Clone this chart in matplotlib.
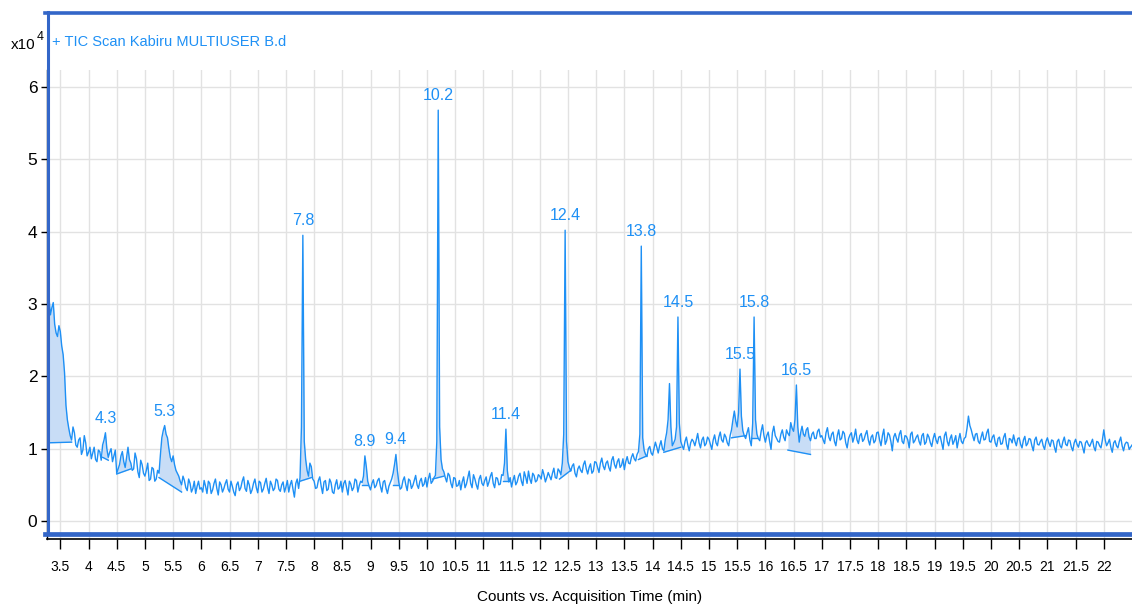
import numpy as np
import matplotlib
matplotlib.use("Agg")
import matplotlib.pyplot as plt
from matplotlib.lines import Line2D

plt.rcParams['font.family'] = ['Liberation Sans', 'DejaVu Sans']

# TIC trace, counts x10^4. tic_a: scans at 3.25, 3.30, ... ; tic_b: scans at 3.275, 3.325, ...
t_start = 3.25
t_step = 0.025
tic_a = [
    # 3.25 - 3.95
    2.80, 3.08, 2.95, 2.72, 2.55, 2.62, 2.30, 1.60, 1.28, 1.12, 1.22, 1.02, 1.15, 0.98, 1.08,
    # 4.00 - 4.95
    0.95, 0.86, 1.02, 0.82, 0.96, 1.05, 1.22, 0.88, 1.00, 0.90, 0.66, 0.78, 0.96, 0.74, 1.02, 0.80, 0.72, 0.86, 0.60, 0.78,
    # 5.00 - 5.95
    0.62, 0.80, 0.58, 0.72, 0.58, 0.66, 1.15, 1.32, 1.15, 0.88, 0.90, 0.70, 0.62, 0.50, 0.56, 0.42, 0.52, 0.45, 0.38, 0.55,
    # 6.00 - 6.95
    0.46, 0.56, 0.38, 0.52, 0.43, 0.58, 0.36, 0.50, 0.45, 0.57, 0.40, 0.48, 0.35, 0.54, 0.46, 0.61, 0.41, 0.50, 0.43, 0.58,
    # 7.00 - 7.95
    0.39, 0.53, 0.44, 0.59, 0.38, 0.50, 0.45, 0.56, 0.41, 0.54, 0.47, 0.40, 0.56, 0.33, 0.58, 0.60, 3.95, 0.85, 0.62, 0.75,
    # 8.00 - 8.95
    0.55, 0.46, 0.61, 0.38, 0.56, 0.44, 0.53, 0.38, 0.57, 0.46, 0.40, 0.56, 0.36, 0.51, 0.46, 0.56, 0.49, 0.53, 0.90, 0.55,
    # 9.00 - 9.95
    0.43, 0.57, 0.49, 0.59, 0.40, 0.56, 0.38, 0.53, 0.66, 0.92, 0.54, 0.46, 0.61, 0.42, 0.56, 0.49, 0.63, 0.45, 0.59, 0.51,
    # 10.00 - 10.95
    0.47, 0.66, 0.55, 0.63, 5.68, 0.85, 0.68, 0.54, 0.63, 0.46, 0.59, 0.49, 0.43, 0.61, 0.51, 0.69, 0.46, 0.58, 0.44, 0.63,
    # 11.00 - 11.95
    0.49, 0.61, 0.54, 0.67, 0.46, 0.59, 0.51, 0.63, 1.27, 0.54, 0.47, 0.63, 0.54, 0.66, 0.49, 0.61, 0.69, 0.52, 0.63, 0.56,
    # 12.00 - 12.95
    0.62, 0.71, 0.54, 0.67, 0.57, 0.73, 0.59, 0.69, 0.80, 4.02, 0.82, 0.69, 0.79, 0.61, 0.76, 0.67, 0.83, 0.65, 0.79, 0.69,
    # 13.00 - 13.95
    0.81, 0.67, 0.87, 0.71, 0.83, 0.69, 0.89, 0.73, 0.86, 0.77, 0.71, 0.89, 0.79, 0.93, 0.83, 0.96, 3.80, 0.98, 0.89, 1.03,
    # 14.00 - 14.95
    0.91, 1.09, 0.94, 1.11, 0.97, 1.22, 1.90, 1.04, 1.13, 2.82, 1.10, 0.99, 1.16, 0.97, 1.13, 1.04, 1.21, 1.01, 1.16, 1.07,
    # 15.00 - 15.95
    1.13, 0.99, 1.19, 1.04, 1.23, 1.09, 1.16, 1.04, 1.26, 1.52, 1.30, 2.10, 1.25, 1.14, 1.29, 1.04, 2.82, 1.20, 1.11, 1.33,
    # 16.00 - 16.95
    1.09, 1.23, 0.99, 1.31, 1.14, 1.09, 1.26, 1.11, 1.21, 1.36, 1.24, 1.88, 1.09, 1.31, 1.17, 1.29, 1.11, 1.23, 1.14, 1.27,
    # 17.00 - 17.95
    1.18, 1.07, 1.29, 1.11, 1.23, 1.04, 1.26, 1.14, 1.21, 1.01, 1.19, 1.09, 1.27, 1.07, 1.21, 1.13, 1.25, 1.05, 1.19, 1.11,
    # 18.00 - 18.95
    1.23, 1.04, 1.27, 1.11, 1.19, 0.97, 1.21, 1.09, 1.25, 1.07, 1.17, 1.01, 1.23, 1.11, 1.19, 1.05, 1.21, 1.09, 1.16, 1.03,
    # 19.00 - 19.95
    1.21, 1.07, 1.17, 0.99, 1.23, 1.04, 1.19, 1.11, 1.01, 1.21, 1.07, 1.16, 1.45, 1.26, 1.11, 1.21, 1.07, 1.23, 1.13, 1.27,
    # 20.00 - 20.95
    1.09, 1.19, 1.03, 1.16, 1.07, 1.21, 0.99, 1.13, 1.19, 1.04, 1.15, 1.01, 1.17, 1.07, 1.13, 0.97, 1.16, 1.05, 1.13, 0.99,
    # 21.00 - 21.95
    1.15, 1.03, 1.11, 0.95, 1.13, 1.01, 1.16, 1.04, 1.11, 0.97, 1.13, 1.02, 1.09, 0.94, 1.11, 1.03, 1.13, 0.97, 1.09, 1.01,
    # 22.00 - 22.50
    1.26, 1.04, 1.13, 0.95, 1.11, 1.01, 1.16, 0.97, 1.09, 0.99, 1.05,
]
tic_b = [
    # 3.275 - 3.975
    2.95, 2.85, 3.02, 2.60, 2.70, 2.42, 2.05, 1.40, 1.18, 1.30, 1.05, 1.12, 0.92, 1.18, 0.90,
    # 4.025 - 4.975
    1.02, 0.94, 0.85, 0.98, 0.84, 1.12, 1.00, 0.95, 0.82, 0.98, 0.72, 0.90, 0.82, 0.88, 0.85, 0.70, 0.94, 0.68, 0.84, 0.66,
    # 5.025 - 5.975
    0.70, 0.56, 0.74, 0.55, 0.70, 0.92, 1.25, 1.20, 1.00, 0.82, 0.78, 0.66, 0.55, 0.62, 0.46, 0.58, 0.40, 0.55, 0.48, 0.44,
    # 6.025 - 6.975
    0.40, 0.48, 0.55, 0.38, 0.52, 0.45, 0.54, 0.40, 0.52, 0.44, 0.55, 0.40, 0.50, 0.42, 0.55, 0.45, 0.56, 0.38, 0.52, 0.46,
    # 7.025 - 7.975
    0.55, 0.40, 0.52, 0.46, 0.55, 0.42, 0.58, 0.44, 0.50, 0.40, 0.56, 0.50, 0.44, 0.52, 0.45, 1.30, 1.10, 0.70, 0.80, 0.58,
    # 8.025 - 8.975
    0.45, 0.56, 0.48, 0.54, 0.42, 0.58, 0.40, 0.50, 0.44, 0.55, 0.52, 0.46, 0.55, 0.42, 0.58, 0.40, 0.55, 0.62, 0.75, 0.48,
    # 9.025 - 9.975
    0.52, 0.46, 0.56, 0.48, 0.54, 0.45, 0.48, 0.58, 0.78, 0.70, 0.44, 0.56, 0.50, 0.58, 0.45, 0.56, 0.50, 0.55, 0.48, 0.60,
    # 10.025 - 10.975
    0.58, 0.52, 0.60, 1.10, 1.30, 0.72, 0.60, 0.66, 0.52, 0.60, 0.48, 0.56, 0.54, 0.46, 0.60, 0.52, 0.64, 0.50, 0.58, 0.52,
    # 11.025 - 11.975
    0.56, 0.48, 0.62, 0.52, 0.60, 0.50, 0.64, 0.80, 0.70, 0.60, 0.56, 0.50, 0.62, 0.55, 0.68, 0.52, 0.58, 0.66, 0.54, 0.64,
    # 12.025 - 12.975
    0.58, 0.64, 0.60, 0.62, 0.66, 0.60, 0.72, 0.64, 1.20, 1.10, 0.74, 0.76, 0.66, 0.72, 0.70, 0.78, 0.72, 0.74, 0.66, 0.82,
    # 13.025 - 13.975
    0.74, 0.80, 0.76, 0.80, 0.74, 0.84, 0.78, 0.82, 0.74, 0.86, 0.82, 0.80, 0.88, 0.86, 0.92, 1.20, 1.15, 0.92, 1.00, 0.94,
    # 14.025 - 14.975
    1.00, 1.02, 1.04, 1.00, 1.12, 1.40, 1.30, 1.08, 1.30, 1.35, 1.04, 1.10, 1.05, 1.08, 1.10, 1.12, 1.08, 1.12, 1.04, 1.16,
    # 15.025 - 15.975
    1.06, 1.12, 1.08, 1.16, 1.12, 1.20, 1.08, 1.18, 1.40, 1.38, 1.50, 1.45, 1.18, 1.22, 1.12, 1.35, 1.40, 1.14, 1.24, 1.18,
    # 16.025 - 16.975
    1.18, 1.10, 1.22, 1.18, 1.10, 1.20, 1.16, 1.26, 1.18, 1.28, 1.40, 1.30, 1.22, 1.20, 1.26, 1.16, 1.20, 1.14, 1.24, 1.16,
    # 17.025 - 17.975
    1.12, 1.22, 1.16, 1.20, 1.10, 1.18, 1.12, 1.24, 1.08, 1.14, 1.22, 1.16, 1.12, 1.18, 1.10, 1.20, 1.12, 1.16, 1.08, 1.22,
    # 18.025 - 18.975
    1.12, 1.18, 1.06, 1.22, 1.10, 1.16, 1.14, 1.20, 1.10, 1.18, 1.12, 1.20, 1.08, 1.16, 1.10, 1.18, 1.06, 1.20, 1.08, 1.14,
    # 19.025 - 19.975
    1.12, 1.16, 1.08, 1.18, 1.10, 1.14, 1.06, 1.18, 1.12, 1.10, 1.14, 1.28, 1.32, 1.18, 1.20, 1.10, 1.16, 1.12, 1.22, 1.10,
    # 20.025 - 20.975
    1.16, 1.08, 1.14, 1.06, 1.16, 1.06, 1.14, 1.08, 1.10, 1.14, 1.06, 1.12, 1.04, 1.14, 1.04, 1.12, 1.06, 1.10, 1.04, 1.10,
    # 21.025 - 21.975
    1.08, 1.12, 1.02, 1.10, 1.04, 1.10, 1.06, 1.12, 1.02, 1.08, 1.06, 1.10, 1.02, 1.08, 1.06, 1.08, 1.02, 1.10, 1.04, 1.12,
    # 22.025 - 22.475
    1.12, 1.08, 1.02, 1.08, 1.04, 1.10, 1.04, 1.06, 1.08, 1.02,
]

# integrated peak windows: start, end, baseline at start, baseline at end
win_t0 = [3.25, 4.25, 4.50, 5.25, 7.75, 8.85, 9.40, 10.10, 11.35, 12.35, 13.75, 14.20, 15.40, 15.75, 16.40]
win_t1 = [3.70, 4.35, 4.75, 5.65, 7.95, 8.95, 9.50, 10.30, 11.45, 12.55, 13.90, 14.50, 15.65, 15.85, 16.80]
win_b0 = [1.08, 0.88, 0.65, 0.60, 0.55, 0.50, 0.50, 0.58, 0.55, 0.58, 0.85, 0.95, 1.15, 1.15, 0.98]
win_b1 = [1.09, 0.84, 0.72, 0.40, 0.60, 0.50, 0.50, 0.62, 0.55, 0.70, 0.90, 1.02, 1.18, 1.15, 0.92]

# peak labels
peak_labels = ["4.3", "5.3", "7.8", "8.9", "9.4", "10.2", "11.4", "12.4", "13.8", "14.5", "15.5", "15.8", "16.5"]
peak_rt = [4.30, 5.35, 7.80, 8.90, 9.45, 10.20, 11.40, 12.45, 13.80, 14.45, 15.55, 15.80, 16.55]

x_ticks = [3.5 + 0.5 * i for i in range(38)]

LINE = '#1e90f5'
FILL = '#c8ddf6'
FRAME = '#3366c8'

W, H = 1132, 605
fig = plt.figure(figsize=(W / 100, H / 100), dpi=100)
ax = fig.add_axes([47 / W, (H - 539) / H, 1 - 47 / W, (539 - 70) / H])

y = np.empty(len(tic_a) + len(tic_b))
y[0::2] = tic_a
y[1::2] = tic_b
t = t_start + t_step * np.arange(len(y))

for t0, t1, b0, b1 in zip(win_t0, win_t1, win_b0, win_b1):
    m = (t >= t0 - 1e-9) & (t <= t1 + 1e-9)
    base = np.interp(t[m], [t0, t1], [b0, b1])
    ax.fill_between(t[m], base, y[m], color=FILL, lw=0, zorder=2)
    ax.plot([t0, t1], [b0, b1], color=LINE, lw=1, zorder=3)

ax.plot(t, y, color=LINE, lw=1, zorder=4)

for lab, rt in zip(peak_labels, peak_rt):
    h = np.interp(rt, t, y)
    ax.annotate(lab, (rt, h), xytext=(0, 5), textcoords='offset points',
                ha='center', va='bottom', color=LINE, fontsize=11.5)

ax.set_xlim(3.264, 22.5)
ax.set_ylim(-0.249, 6.235)
ax.set_xticks(x_ticks)
ax.set_xticklabels([f"{v:g}" for v in x_ticks])
ax.set_yticks(range(7))
ax.grid(True, color='#e2e2e2', lw=1)
ax.set_axisbelow(True)
ax.tick_params(axis='x', length=7, width=1, labelsize=10, pad=8)
ax.tick_params(axis='y', length=4, width=1, labelsize=12.5, pad=3)
for s in ['top', 'right']:
    ax.spines[s].set_visible(False)
ax.spines['left'].set_linewidth(1)
ax.spines['bottom'].set_linewidth(1.2)
ax.set_xlabel("Counts vs. Acquisition Time (min)", fontsize=11, labelpad=12)

# blue frame around plot region
fig.add_artist(Line2D([45 / W, 1], [(H - 12.5) / H] * 2, color=FRAME, lw=2.6))
fig.add_artist(Line2D([48 / W] * 2, [(H - 12) / H, (H - 534) / H], color=FRAME, lw=2.2))
fig.add_artist(Line2D([45 / W, 1], [(H - 533.5) / H] * 2, color=FRAME, lw=3.4))

fig.text(52 / W, (H - 42) / H, "+ TIC Scan Kabiru MULTIUSER B.d", color=LINE,
         fontsize=10.5, va='center', ha='left')
fig.text(11 / W, (H - 45) / H, "x10", fontsize=11, va='center', ha='left')
fig.text(37 / W, (H - 37) / H, "4", fontsize=9, va='center', ha='left')

fig.savefig("out.png", dpi=100)
